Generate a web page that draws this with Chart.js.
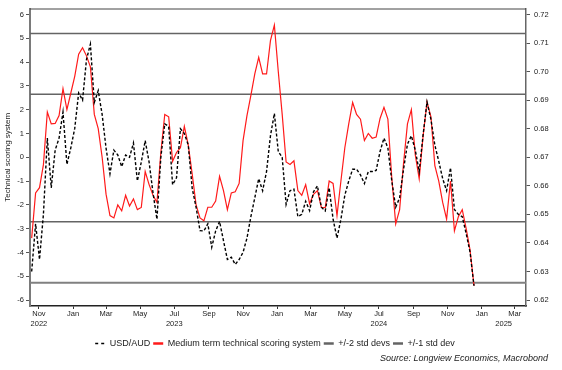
<!DOCTYPE html>
<html>
<head>
<meta charset="utf-8">
<script src="https://cdn.jsdelivr.net/npm/chart.js@4.4.1/dist/chart.umd.min.js"></script>
<style>
  html, body { margin: 0; padding: 0; background: #fff; }
</style>
</head>
<body>
<canvas id="chart" width="562" height="370"></canvas>
<script>
// weekly readings, first one on this date
const startDate = '2022-10-19';

// USD/AUD (right axis)
const usdAud = [
  0.6300, 0.6467, 0.6342, 0.6500, 0.6767, 0.6593, 0.6725, 0.6767, 0.6858, 0.6675,
  0.6733, 0.6801, 0.6925, 0.6900, 0.7042, 0.7096, 0.6892, 0.6933, 0.6850, 0.6732,
  0.6642, 0.6725, 0.6708, 0.6667, 0.6708, 0.6700, 0.6750, 0.6617, 0.6683, 0.6758,
  0.6683, 0.6575, 0.6483, 0.6700, 0.6817, 0.6808, 0.6604, 0.6628, 0.6800, 0.6783,
  0.6743, 0.6592, 0.6525, 0.6443, 0.6442, 0.6467, 0.6385, 0.6442, 0.6475, 0.6408,
  0.6342, 0.6350, 0.6325, 0.6342, 0.6367, 0.6417, 0.6492, 0.6558, 0.6625, 0.6583,
  0.6650, 0.6775, 0.6853, 0.6720, 0.6700, 0.6535, 0.6583, 0.6588, 0.6492, 0.6500,
  0.6546, 0.6513, 0.6579, 0.6600, 0.6525, 0.6512, 0.6593, 0.6483, 0.6417, 0.6483,
  0.6567, 0.6617, 0.6658, 0.6658, 0.6638, 0.6608, 0.6650, 0.6650, 0.6654, 0.6720,
  0.6767, 0.6733, 0.6617, 0.6525, 0.6558, 0.6658, 0.6746, 0.6775, 0.6725, 0.6650,
  0.6779, 0.6893, 0.6833, 0.6742, 0.6686, 0.6625, 0.6583, 0.6663, 0.6517, 0.6500,
  0.6492, 0.6433, 0.6367, 0.6250
];

// Medium term technical scoring system (left axis)
const scoring = [
  -3.4, -1.5, -1.28, -0.31, 1.9, 1.4, 1.42, 1.75, 2.88, 2.0,
  2.7, 3.4, 4.33, 4.6, 4.26, 3.8, 1.8, 1.2, 0.0, -1.55,
  -2.45, -2.55, -2.0, -2.25, -1.6, -2.05, -1.75, -2.2, -2.11, -0.6,
  -1.15, -1.6, -1.9, 0.2, 1.8, 1.7, -0.17, 0.2, 0.4, 1.3,
  0.52, -0.7, -2.0, -2.55, -2.67, -2.1, -2.1, -1.84, -0.8, -1.4,
  -2.2, -1.5, -1.45, -1.1, 0.7, 1.75, 2.6, 3.5, 4.2, 3.5,
  3.5, 4.9, 5.55, 3.6, 1.8, -0.2, -0.3, -0.15, -1.4, -1.6,
  -1.15, -1.95, -1.56, -1.4, -2.1, -2.12, -1.0, -1.1, -2.45, -1.0,
  0.4, 1.4, 2.3, 1.8, 1.6, 0.7, 1.0, 0.8, 0.85, 1.63,
  2.1, 1.6, -0.87, -2.8, -2.2, -0.25, 1.4, 2.0, 0.1, -0.9,
  0.9, 2.32, 1.7, -0.35, -1.0, -1.9, -2.6, -1.0, -3.09, -2.5,
  -2.2, -3.0, -3.9, -5.4
];

const stdTwo = [5.2, -5.27];
const stdOne = [2.65, -2.71];

const xRange = ['2022-10-16', '2025-03-21'];
const monthTicks = ['2022-11-01', '2023-01-01', '2023-03-01', '2023-05-01', '2023-07-01',
  '2023-09-01', '2023-11-01', '2024-01-01', '2024-03-01', '2024-05-01', '2024-07-01',
  '2024-09-01', '2024-11-01', '2025-01-01', '2025-03-01'];
const yearLabels = ['2022', '2023', '2024', '2025'];
const yearAt = ['2022-11-01', '2023-07-01', '2024-07-01', '2025-02-09'];
const leftTicks = [-6, -5, -4, -3, -2, -1, 0, 1, 2, 3, 4, 5, 6];
const rightTicks = [0.62, 0.63, 0.64, 0.65, 0.66, 0.67, 0.68, 0.69, 0.70, 0.71, 0.72];
const monthNames = ['Jan', 'Feb', 'Mar', 'Apr', 'May', 'Jun', 'Jul', 'Aug', 'Sep', 'Oct', 'Nov', 'Dec'];
const sourceText = 'Source: Longview Economics, Macrobond';

const day = s => Date.parse(s + 'T00:00:00Z') / 86400000;
const xMin = day(xRange[0]);
const xMax = day(xRange[1]);
const weekX = i => day(startDate) + 7 * i;

const FONT = "'Liberation Sans', Arial, sans-serif";
const GREY = '#646464';

function flatLine(v) {
  return [{x: xMin, y: v}, {x: xMax, y: v}];
}

// year row under the month labels, top edge of the frame, source note
const extras = {
  id: 'extras',
  afterDraw(chart) {
    const ctx = chart.ctx;
    const xs = chart.scales.x;
    const area = chart.chartArea;
    ctx.save();
    ctx.font = '7.5px ' + FONT;
    ctx.fillStyle = '#222';
    ctx.textAlign = 'center';
    ctx.textBaseline = 'middle';
    yearLabels.forEach((t, i) => {
      ctx.fillText(t, xs.getPixelForValue(day(yearAt[i])), xs.top + 18);
    });
    ctx.font = 'italic 9px ' + FONT;
    ctx.textAlign = 'right';
    ctx.fillText(sourceText, chart.width - 14, 358);
    ctx.strokeStyle = '#444';
    ctx.lineWidth = 1;
    ctx.beginPath();
    ctx.moveTo(area.left, area.top + 0.5);
    ctx.lineTo(area.right, area.top + 0.5);
    ctx.stroke();
    ctx.restore();
  }
};

new Chart(document.getElementById('chart'), {
  type: 'line',
  data: {
    datasets: [
      {
        label: 'USD/AUD',
        yAxisID: 'y1',
        data: usdAud.map((v, i) => ({x: weekX(i), y: v})),
        borderColor: '#000',
        backgroundColor: '#000',
        borderWidth: 1.4,
        borderDash: [3, 2],
        pointRadius: 0
      },
      {
        label: 'Medium term technical scoring system',
        yAxisID: 'y',
        data: scoring.map((v, i) => ({x: weekX(i), y: v})),
        borderColor: '#ff1a1a',
        backgroundColor: '#ff1a1a',
        borderWidth: 1.2,
        pointRadius: 0
      },
      {
        label: '+/-2 std devs',
        yAxisID: 'y',
        data: flatLine(stdTwo[0]),
        borderColor: GREY,
        backgroundColor: GREY,
        borderWidth: 1.6,
        pointRadius: 0
      },
      {
        label: '+/-1 std dev',
        yAxisID: 'y',
        data: flatLine(stdOne[0]),
        borderColor: GREY,
        backgroundColor: GREY,
        borderWidth: 1.6,
        pointRadius: 0
      },
      {
        label: '',
        yAxisID: 'y',
        data: flatLine(stdTwo[1]),
        borderColor: '#808080',
        borderWidth: 2,
        pointRadius: 0
      },
      {
        label: '',
        yAxisID: 'y',
        data: flatLine(stdOne[1]),
        borderColor: GREY,
        borderWidth: 1.6,
        pointRadius: 0
      }
    ]
  },
  options: {
    responsive: false,
    devicePixelRatio: 1,
    animation: false,
    events: [],
    layout: {padding: {top: 6, right: 12, left: 0, bottom: 12}},
    scales: {
      x: {
        type: 'linear',
        min: xMin,
        max: xMax,
        afterBuildTicks: s => { s.ticks = monthTicks.map(d => ({value: day(d)})); },
        afterFit: s => { s.height = 30; },
        ticks: {
          autoSkip: false,
          maxRotation: 0,
          padding: 0,
          color: '#222',
          font: {family: FONT, size: 7.5},
          callback: v => monthNames[new Date(v * 86400000).getUTCMonth()]
        },
        grid: {drawOnChartArea: false, drawTicks: true, tickLength: 3, color: '#333'},
        border: {color: '#222', width: 1.5}
      },
      y: {
        position: 'left',
        min: -6.25,
        max: 6.25,
        afterBuildTicks: s => { s.ticks = leftTicks.map(v => ({value: v})); },
        afterFit: s => { s.width = 30; },
        ticks: {color: '#222', padding: 2, font: {family: FONT, size: 7.5}},
        grid: {drawOnChartArea: false, drawTicks: true, tickLength: 4, color: '#555'},
        border: {color: '#7a7a7a', width: 2},
        title: {
          display: true,
          text: 'Technical scoring system',
          color: '#222',
          font: {family: FONT, size: 8},
          padding: {top: 3, bottom: 0}
        }
      },
      y1: {
        position: 'right',
        min: 0.67 - 6.25 / 120,
        max: 0.67 + 6.25 / 120,
        afterBuildTicks: s => { s.ticks = rightTicks.map(v => ({value: v})); },
        afterFit: s => { s.width = 24; },
        ticks: {color: '#222', padding: 4, font: {family: FONT, size: 7.5}, callback: v => v.toFixed(2)},
        grid: {drawOnChartArea: false, drawTicks: true, tickLength: 4, color: '#555'},
        border: {color: '#666', width: 1.5}
      }
    },
    plugins: {
      legend: {
        position: 'bottom',
        labels: {
          usePointStyle: true,
          pointStyle: 'line',
          pointStyleWidth: 10,
          padding: 3,
          color: '#222',
          font: {family: FONT, size: 9},
          filter: item => item.text !== '',
          generateLabels: chart => {
            const items = Chart.defaults.plugins.legend.labels.generateLabels(chart);
            items.forEach(it => {
              if (it.datasetIndex === 0) {
                it.lineDash = [3, 3];
                it.lineWidth = 1.5;
              } else {
                it.lineWidth = 2.5;
              }
            });
            return items;
          }
        }
      },
      title: {display: false},
      tooltip: {enabled: false}
    }
  },
  plugins: [extras]
});
</script>
</body>
</html>
